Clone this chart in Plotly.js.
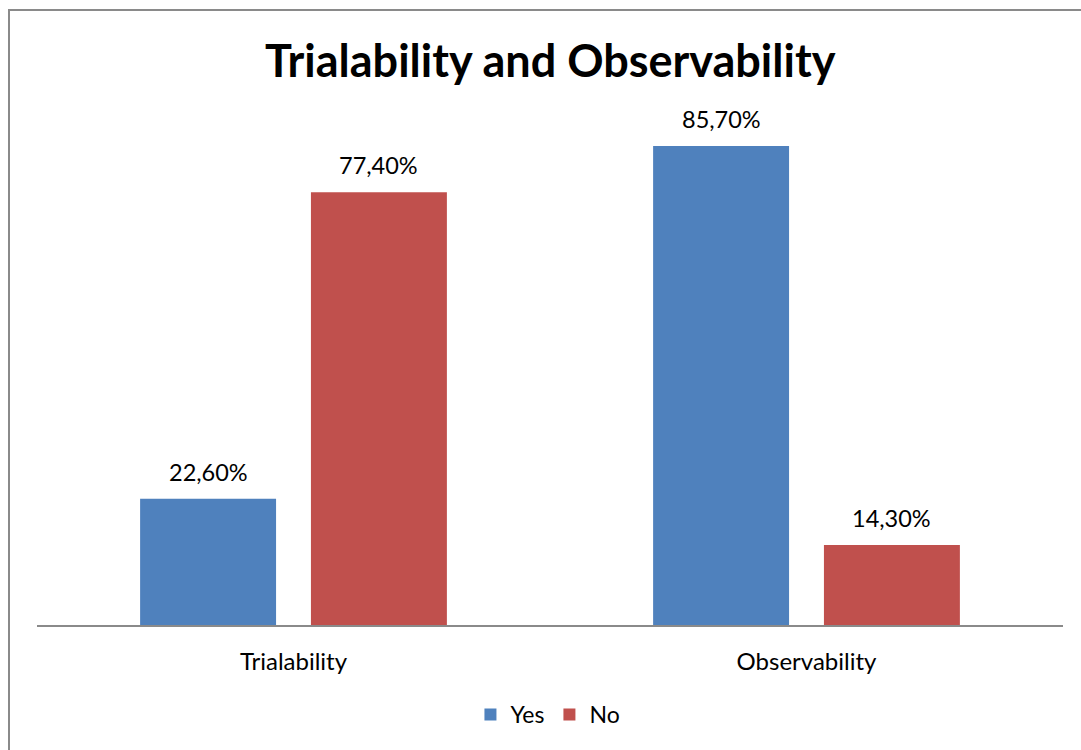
<!DOCTYPE html>
<html>
<head>
<meta charset="utf-8">
<script src="https://cdn.plot.ly/plotly-3.0.1.min.js"></script>
<style>
  html, body { margin: 0; padding: 0; background: #fff; }
  #chart { position: absolute; left: 0; top: 0; width: 1081px; height: 750px; }
  #frame { position: absolute; left: 8px; top: 9px; width: 1100px; height: 800px;
           border-left: 2px solid #8a8a8a; border-top: 2px solid #8a8a8a;
           pointer-events: none; z-index: 5; }
</style>
</head>
<body>
<div id="chart"></div>
<div id="frame"></div>
<script>
const categories = ["Trialability", "Observability"];
const yesValues = [22.6, 85.7];
const noValues = [77.4, 14.3];
const seriesNames = ["Yes", "No"];
const chartTitle = "Trialability and Observability";

const FONT = "Lato, 'Open Sans', sans-serif";
const barWidth = 0.265;
const yesOffset = -0.299;
const noOffset = 0.034;

function fmt(v) { return v.toFixed(2).replace(".", ",") + "%"; }

const traces = [
  { type: "bar", name: seriesNames[0], x: categories, y: yesValues,
    width: barWidth, offset: yesOffset,
    marker: { color: "#4f81bd" }, hoverinfo: "skip" },
  { type: "bar", name: seriesNames[1], x: categories, y: noValues,
    width: barWidth, offset: noOffset,
    marker: { color: "#c0504d" }, hoverinfo: "skip" }
];

const annotations = [];
[[yesValues, yesOffset], [noValues, noOffset]].forEach(([vals, off]) => {
  vals.forEach((v, i) => {
    annotations.push({
      x: i + off + barWidth / 2, y: v, xref: "x", yref: "y",
      text: fmt(v), showarrow: false, yanchor: "bottom", yshift: 11,
      font: { family: FONT, size: 23.5, color: "#000" }
    });
  });
});

const layout = {
  width: 1081, height: 750,
  margin: { l: 37, r: 18, t: 66, b: 125 },
  paper_bgcolor: "#fff", plot_bgcolor: "#fff",
  title: { text: "<b>" + chartTitle + "</b>", x: 0.509, xanchor: "center",
           y: 0.918, yanchor: "middle",
           font: { family: FONT, size: 45, color: "#000" } },
  xaxis: { type: "category", showline: true, linecolor: "#8a8a8a", linewidth: 2,
           ticks: "", showgrid: false, zeroline: false, ticklabelstandoff: 14,
           tickfont: { family: FONT, size: 24, color: "#000" },
           range: [-0.5, 1.5] },
  yaxis: { range: [0, 100], visible: false, showgrid: false, zeroline: false },
  showlegend: true,
  legend: { orientation: "h", x: 0.498, xanchor: "center", y: -0.16, yanchor: "middle",
            font: { family: FONT, size: 23, color: "#000" }, itemwidth: 30 },
  annotations: annotations,
  barmode: "group"
};

Plotly.newPlot("chart", traces, layout, { displayModeBar: false, staticPlot: true });
</script>
</body>
</html>
